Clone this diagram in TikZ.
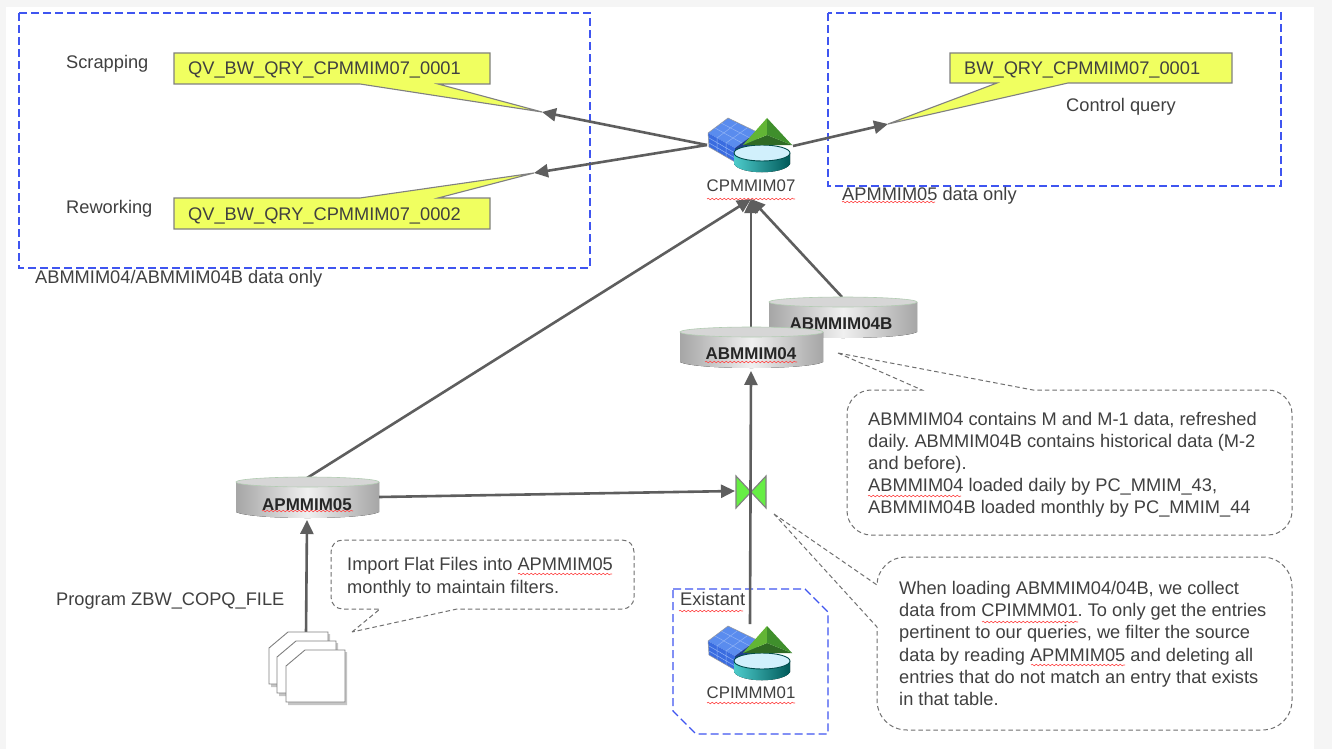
\documentclass[tikz,border=0pt]{standalone}
\usepackage{fontspec}
\setmainfont{Liberation Sans}
\usetikzlibrary{arrows.meta,decorations.pathmorphing}
\definecolor{txt}{HTML}{404040}
\definecolor{lin}{HTML}{5E5E5E}
\definecolor{blu}{HTML}{3F55F0}
\definecolor{yel}{HTML}{F0FF60}
\definecolor{dsh}{HTML}{707070}
\definecolor{cubeT}{HTML}{5A8CEE}
\definecolor{cubeL}{HTML}{3A6CE0}
\definecolor{cubeR}{HTML}{1F3F90}
\definecolor{cubeG}{HTML}{8FB2F5}
\definecolor{pyrL}{HTML}{62B535}
\definecolor{pyrR}{HTML}{3F8F2C}
\definecolor{pyrB}{HTML}{2F6A24}
\definecolor{bowg}{HTML}{66EE44}
\tikzset{x=1pt,y=-1pt,
 lbl/.style={font=\fontsize{18.25}{22}\selectfont,text=txt,inner sep=0pt},
 left lbl/.style={lbl,anchor=base west},
 note/.style={lbl,align=left,anchor=north west},
 conn/.style={draw=lin,line width=2.6pt,-{Triangle[length=14pt,width=13pt]}},
 region/.style={draw=blu,line width=1.3pt,dash pattern=on 8pt off 4pt},
 callout/.style={draw=dsh,line width=1pt,dash pattern=on 4.5pt off 3pt,fill=white},
 querybox/.style={draw=gray,line width=1.1pt,fill=yel},
 capt/.style={font=\fontsize{16.8}{20}\selectfont,text=txt,inner sep=0pt,anchor=base},
 disk/.style={font=\bfseries\fontsize{17}{20}\selectfont,text=black!85,inner sep=0pt,anchor=base},
 squig/.style={draw=red!70!white,line width=0.6pt,decorate,decoration={snake,amplitude=0.8pt,segment length=4pt}}
}
\newcommand{\diskshape}[3]{% x-left, y-top, x-right
 \fill[left color=gray!70,right color=gray!70,middle color=gray!12] (#1,#2+5) -- (#1,#2+35) .. controls (#1+15,#2+43) and (#3-15,#2+43) .. (#3,#2+35) -- (#3,#2+5) -- cycle;
 \draw[draw=green!20!gray!50,fill=gray!32,line width=.6pt] (#1/2+#3/2,#2+5) ellipse[x radius=(#3-#1)/2,y radius=5];
}
\newcommand{\cubeicon}[2]{% reference x, top y
\begin{scope}[shift={(#1,#2)}]
 % cube
 \fill[cubeT] (-37,16) -- (-17,1) -- (12,15) -- (-10,31) -- cycle;
 \fill[cubeL] (-37,16) -- (-10,31) -- (-10,45) -- (-36,30) -- cycle;
 \fill[cubeR] (-10,31) -- (12,15) -- (12,33) -- (-10,45) -- cycle;
 \draw[cubeG,line width=.5pt] (-30,11) -- (-3,26) (-24,6) -- (5,21) (-28,21) -- (-8,6) (-19,26) -- (2,11)
   (-28,21) -- (-28,35) (-19,26) -- (-19,40) (-36,21) -- (-10,36) (-36,26) -- (-10,41);
 \draw[gray!80,line width=.5pt] (-37,16) -- (-17,1) -- (12,15) (-37,16) -- (-36,30) -- (-10,45);
 % cylinder
 \fill[left color=cyan!55!gray!90,right color=teal!70!black] (-11,36) -- (-11,47) .. controls (-5,58) and (39,58) .. (45,47) -- (45,36) -- cycle;
 \draw[draw=teal!60!black,fill=cyan!18!white,line width=.9pt] (17,36) ellipse[x radius=28,y radius=8];
 % pyramid
 \fill[pyrB] (-2,28) -- (22,18) -- (47,28) -- cycle;
 \fill[pyrL] (22,1) -- (-2,28) -- (22,18) -- cycle;
 \fill[pyrR] (22,1) -- (47,28) -- (22,18) -- cycle;
\end{scope}}
\frenchspacing
\begin{document}
\begin{tikzpicture}
\useasboundingbox (0,0) rectangle (1332,749);
\fill[white] (0,0) rectangle (1332,749);
\fill[gray!8] (0,0) rectangle (1332,7);
\fill[gray!8] (0,0) rectangle (6,749);
\fill[gray!8] (1314,0) rectangle (1332,749);

% regions
\draw[region] (19,13) rectangle (590,268);
\draw[region] (828,13) rectangle (1281,186);
\draw[region] (673,589) -- (805,589) -- (828,612) -- (828,734) -- (696,734) -- (673,711) -- cycle;

% query boxes
\coordinate (qtipa) at (542,112);
\coordinate (qtipb) at (534,173);
\coordinate (qtipc) at (888,124);
\draw[querybox] (174,53) -- (490,53) -- (490,84) -- (438,84) -- (qtipa) -- (360,84) -- (174,84) -- cycle;
\draw[querybox] (174,198) -- (360,198) -- (qtipb) -- (438,198) -- (490,198) -- (490,229) -- (174,229) -- cycle;
\draw[querybox] (950,53) -- (1232,53) -- (1232,83) -- (1068,83) -- (qtipc) -- (997,83) -- (950,83) -- cycle;
\node[left lbl] (qa) at (188,75) {QV\_BW\_QRY\_CPMMIM07\_0001};
\node[left lbl] (qb) at (188,220) {QV\_BW\_QRY\_CPMMIM07\_0002};
\node[left lbl] (qc) at (964,75) {BW\_QRY\_CPMMIM07\_0001};
\node[left lbl] (scr) at (66,69) {Scrapping};
\node[left lbl] (rew) at (66,213) {Reworking};
\node[left lbl] (ctl) at (1066,111) {Control query};
\node[left lbl] (onlya) at (35,283) {ABMMIM04/ABMMIM04B data only};
\node[left lbl] (onlyb) at (842,200) {APMMIM05 data only};
\node[left lbl] (prog) at (56,605) {Program ZBW\_COPQ\_FILE};

% anchors for connectors
\coordinate (cubeaL) at (707,145);
\coordinate (cubeaR) at (793,146);
\coordinate (cubeaB) at (751,199);
\coordinate (dbaT) at (751,330);
\coordinate (dbaB) at (751,371);
\coordinate (dbbT) at (842,297);
\coordinate (dbcT) at (307,478);
\coordinate (dbcR) at (379,497);
\coordinate (dbcB) at (307,520);
\coordinate (bowL) at (735,491);
\coordinate (cubebT) at (750,624);
\coordinate (fileT) at (306,634);

\draw[conn] (cubeaL) -- (qtipa);
\draw[conn] (cubeaL) -- (qtipb);
\draw[conn] (cubeaR) -- (qtipc);
\draw[conn] (dbaT) -- (cubeaB);
\draw[conn] (dbbT) -- (cubeaB);
\draw[conn] (dbcT) -- (cubeaB);
\draw[conn] (cubebT) -- (dbaB);
\draw[conn] (dbcR) -- (bowL);
\draw[conn] (fileT) -- (dbcB);

% disks
\diskshape{769}{297}{917}
\node[disk] (dbb) at (841,329) {ABMMIM04B};
\diskshape{680}{327}{823}
\node[disk] (dba) at (751,359) {ABMMIM04};
\diskshape{236}{477}{379}
\node[disk] (dbc) at (307,510) {APMMIM05};

% cubes
\cubeicon{745}{117}
\node[capt] (cubea) at (751,191) {CPMMIM07};
\cubeicon{745}{625}
\node[capt] (cubeb) at (751,698) {CPIMMM01};

% bowtie
\draw[draw=gray,line width=1.1pt,fill=bowg] (736,476) -- (751,492) -- (736,508) -- cycle;
\draw[draw=gray,line width=1.1pt,fill=bowg] (766,476) -- (751,492) -- (766,508) -- cycle;
\draw[lin,line width=2.2pt] (750.5,505) -- (750.5,480);
\node[left lbl] (exi) at (680,605) {Existant};

% files
\foreach \dx/\dy in {0/0,8/9,17/18}{
 \fill[gray,opacity=.45] (269+\dx+2,648+\dy+2) -- (288+\dx+2,632+\dy+2) -- (328+\dx+2,632+\dy+2) -- (328+\dx+2,684+\dy+3) -- (269+\dx+2,684+\dy+3) -- cycle;
 \draw[draw=gray,line width=.9pt,fill=white] (269+\dx,648+\dy) -- (288+\dx,632+\dy) -- (328+\dx,632+\dy) -- (328+\dx,684+\dy) -- (269+\dx,684+\dy) -- cycle;
}

% callouts
\coordinate (pa) at (838,353);
\coordinate (pb) at (352,632);
\coordinate (pc) at (774,514);
\draw[callout] (pb) -- (380,609) -- (343,609) .. controls (336,609) and (331,604) .. (331,597) -- (331,552) .. controls (331,545) and (336,540) .. (343,540) -- (622,540) .. controls (629,540) and (634,545) .. (634,552) -- (634,597) .. controls (634,604) and (629,609) .. (622,609) -- (457,609) -- cycle;
\draw[callout] (pa) -- (922,390) -- (871,390) .. controls (858,390) and (847,401) .. (847,414) -- (847,511) .. controls (847,524) and (858,535) .. (871,535) -- (1268,535) .. controls (1281,535) and (1292,524) .. (1292,511) -- (1292,414) .. controls (1292,401) and (1281,390) .. (1268,390) -- (1033,390) -- cycle;
\draw[callout] (pc) -- (877,585) .. controls (877,570) and (890,557) .. (905,557) -- (1262,557) .. controls (1279,557) and (1292,570) .. (1292,587) -- (1292,700) .. controls (1292,717) and (1279,730) .. (1262,730) -- (907,730) .. controls (890,730) and (877,717) .. (877,700) -- (877,627) -- cycle;

\node[note,font=\fontsize{18.25}{22.7}\selectfont] (nb) at (347,557) {Import Flat Files into APMMIM05\\monthly to maintain filters.};
\node[note,font=\fontsize{18.25}{22}\selectfont] (na) at (868,412) {ABMMIM04 contains M and M-1 data, refreshed\\daily. ABMMIM04B contains historical data (M-2\\and before).\\ABMMIM04 loaded daily by PC\_MMIM\_43,\\ABMMIM04B loaded monthly by PC\_MMIM\_44};
\node[note,font=\fontsize{18.25}{22.2}\selectfont] (nc) at (899,581) {When loading ABMMIM04/04B, we collect\\data from CPIMMM01. To only get the entries\\pertinent to our queries, we filter the source\\data by reading APMMIM05 and deleting all\\entries that do not match an entry that exists\\in that table.};

% spell-check squiggles
\draw[squig] (707,199) -- (795,199);
\draw[squig] (707,703) -- (795,703);
\draw[squig] (842,202) -- (935,202);
\draw[squig] (262,511) -- (353,511);
\draw[squig] (518,574) -- (612,574);
\draw[squig] (705,362) -- (797,362);
\draw[squig] (679,611) -- (743,611);
\draw[squig] (868,496) -- (961,496);
\draw[squig] (982,622) -- (1078,622);
\draw[squig] (1031,665) -- (1125,665);
\end{tikzpicture}
\end{document}
